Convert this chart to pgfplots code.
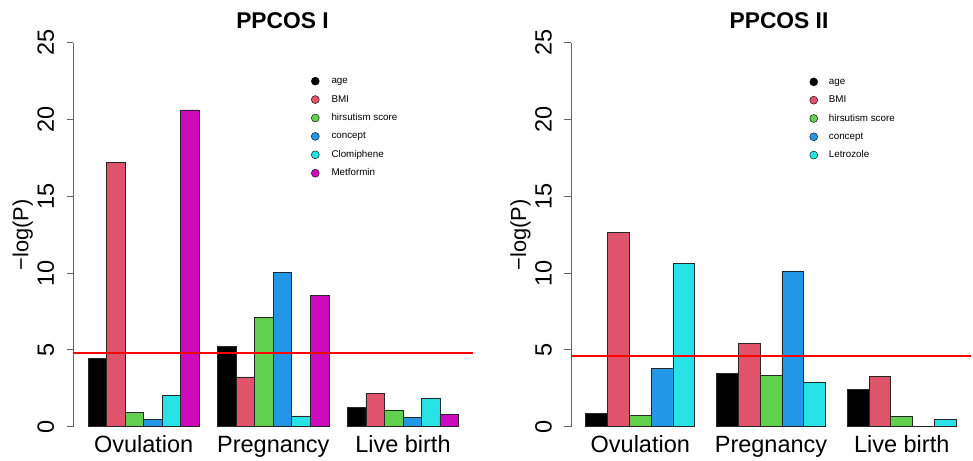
\documentclass[border=0pt]{standalone}
\usepackage{pgfplots}
\pgfplotsset{compat=1.18}
\usepackage{fontspec}
\setmainfont{Liberation Sans}
\definecolor{cAge}{HTML}{000000}
\definecolor{cBMI}{HTML}{DF536B}
\definecolor{cHir}{HTML}{61D04F}
\definecolor{cCon}{HTML}{2297E6}
\definecolor{cCya}{HTML}{28E2E5}
\definecolor{cMet}{HTML}{CD0BBC}
\pgfplotsset{
  panel/.style={
    scale only axis, width=400pt, height=384pt,
    ymin=0, ymax=25, ytick={0,5,10,15,20,25},
    axis x line*=bottom, axis y line*=left,
    x axis line style={draw=none},
    y axis line style={black!60, line width=0.8pt},
    xtick style={draw=none},
    ytick style={black!60, line width=0.8pt},
    tick align=outside, major tick length=6.6pt,
    /pgf/number format/assume math mode=true,
    yticklabel style={rotate=90, anchor=base, font=\fontsize{23.5}{28}\selectfont},
    yticklabel shift=12.7pt,
    xticklabel style={anchor=base, font=\fontsize{23.5}{28}\selectfont},
    xticklabel shift=19.4pt,
    ylabel={−log(P)},
    every axis y label/.style={at={(axis description cs:-0.1122,0.5)}, rotate=90, anchor=base, font=\fontsize{21.8}{26}\selectfont},
    legend image code/.code={\fill[##1] (0pt,0pt) circle (4pt);},
    legend cell align=left,
  },
  mybar/.style={ybar, bar width=1, bar shift=0pt, draw=black!85, line width=0.7pt, forget plot},
}
\begin{document}
\begin{tikzpicture}
\path[use as bounding box] (0,0) rectangle (973pt,460pt);
% ---------------- PPCOS I ----------------
\begin{axis}[panel,
  at={(73.3pt,33.3pt)}, anchor=south west,
  xmin=0.2, xmax=21.8,
  xtick={4,11,18}, xticklabels={Ovulation,Pregnancy,Live birth},
  title={PPCOS I},
  every axis title/.style={at={(axis description cs:0.523,1.0375)}, anchor=base, font=\bfseries\fontsize{22.8}{27}\selectfont},
  legend style={at={(axis description cs:0.594,0.9133)}, anchor=north west, draw=none, fill=none, inner sep=0pt, row sep=8.4pt, column sep=12pt, font=\fontsize{9.8}{11}\selectfont, nodes={inner sep=0pt, text height=7.6pt, text depth=2.4pt}},
]
\addplot[mybar, fill=cAge] coordinates {(1.5,4.45) (8.5,5.23) (15.5,1.26)};
\addplot[mybar, fill=cBMI] coordinates {(2.5,17.19) (9.5,3.24) (16.5,2.19)};
\addplot[mybar, fill=cHir] coordinates {(3.5,0.94) (10.5,7.10) (17.5,1.09)};
\addplot[mybar, fill=cCon] coordinates {(4.5,0.48) (11.5,10.07) (18.5,0.63)};
\addplot[mybar, fill=cCya] coordinates {(5.5,2.02) (12.5,0.70) (19.5,1.87)};
\addplot[mybar, fill=cMet] coordinates {(6.5,20.62) (13.5,8.57) (20.5,0.81)};
\addplot[red, line width=1.6pt, forget plot] coordinates {(0.2,4.787) (21.8,4.787)};
\addlegendimage{fill=cAge}\addlegendentry{age}
\addlegendimage{fill=cBMI}\addlegendentry{BMI}
\addlegendimage{fill=cHir}\addlegendentry{hirsutism score}
\addlegendimage{fill=cCon}\addlegendentry{concept}
\addlegendimage{fill=cCya}\addlegendentry{Clomiphene}
\addlegendimage{fill=cMet}\addlegendentry{Metformin}
\end{axis}
% ---------------- PPCOS II ----------------
\begin{axis}[panel,
  at={(571pt,33.3pt)}, anchor=south west,
  xmin=0.32, xmax=18.68,
  xtick={3.5,9.5,15.5}, xticklabels={Ovulation,Pregnancy,Live birth},
  title={PPCOS II},
  every axis title/.style={at={(axis description cs:0.52,1.0375)}, anchor=base, font=\bfseries\fontsize{22.8}{27}\selectfont},
  legend style={at={(axis description cs:0.5958,0.9115)}, anchor=north west, draw=none, fill=none, inner sep=0pt, row sep=8.3pt, column sep=11pt, font=\fontsize{9.8}{11}\selectfont, nodes={inner sep=0pt, text height=7.6pt, text depth=2.4pt}},
]
\addplot[mybar, fill=cAge] coordinates {(1.5,0.87) (7.5,3.45) (13.5,2.43)};
\addplot[mybar, fill=cBMI] coordinates {(2.5,12.66) (8.5,5.43) (14.5,3.26)};
\addplot[mybar, fill=cHir] coordinates {(3.5,0.76) (9.5,3.34) (15.5,0.65)};
\addplot[mybar, fill=cCon] coordinates {(4.5,3.82) (10.5,10.14) (16.5,0)};
\addplot[mybar, fill=cCya] coordinates {(5.5,10.61) (11.5,2.87) (17.5,0.50)};
\addplot[red, line width=1.6pt, forget plot] coordinates {(0.32,4.605) (18.68,4.605)};
\addlegendimage{fill=cAge}\addlegendentry{age}
\addlegendimage{fill=cBMI}\addlegendentry{BMI}
\addlegendimage{fill=cHir}\addlegendentry{hirsutism score}
\addlegendimage{fill=cCon}\addlegendentry{concept}
\addlegendimage{fill=cCya}\addlegendentry{Letrozole}
\end{axis}
\end{tikzpicture}
\end{document}
